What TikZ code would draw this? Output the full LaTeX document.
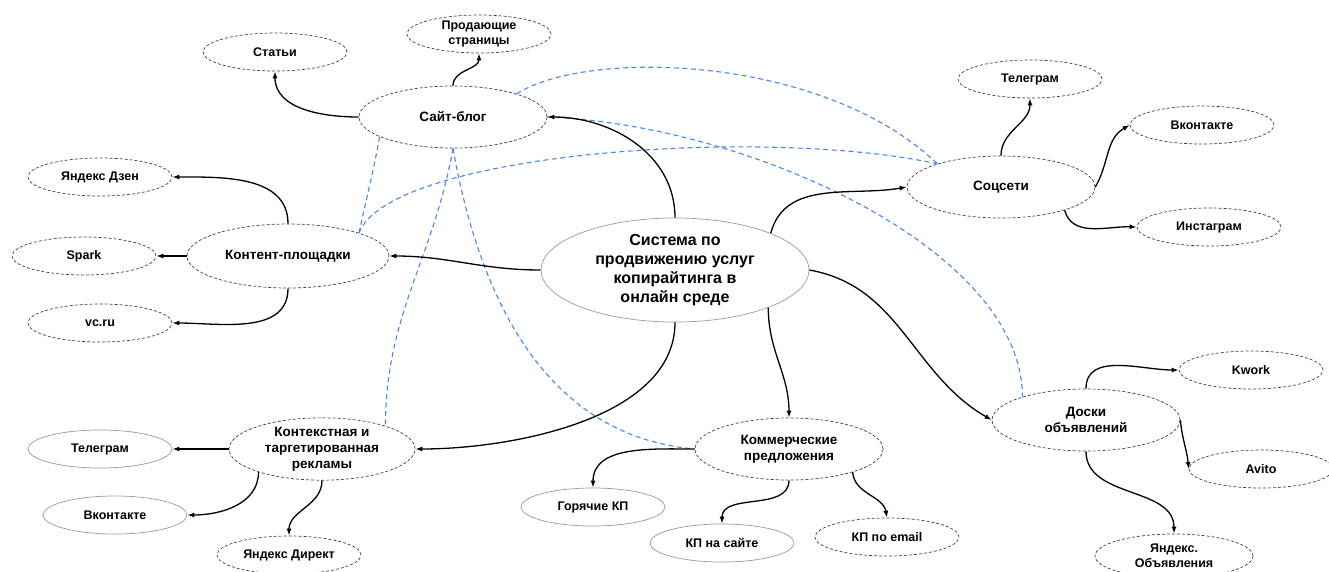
\documentclass[tikz,border=0pt]{standalone}
\usepackage{fontspec}
\setmainfont{Liberation Sans}
\usetikzlibrary{shapes.geometric, arrows.meta}
\definecolor{linkblue}{HTML}{4A86E8}

\tikzset{
  hub/.style={ellipse, draw=black!40, line width=0.7pt, inner sep=0pt, align=center,
    minimum width=268pt, minimum height=104pt, font=\bfseries\fontsize{16}{19}\selectfont},
  topic/.style={ellipse, draw=black!75, line width=0.7pt, dash pattern=on 3pt off 2pt,
    inner sep=0pt, align=center, minimum width=188pt, minimum height=62pt,
    font=\bfseries\fontsize{13.5}{16}\selectfont},
  leaf/.style={ellipse, draw=black!75, line width=0.7pt, dash pattern=on 3pt off 2pt,
    inner sep=0pt, align=center, minimum width=144pt, minimum height=38pt,
    font=\bfseries\fontsize{12.5}{15}\selectfont},
  leafsolid/.style={leaf, solid, draw=black!40},
  arr/.style={-{Latex[length=7pt,width=5pt]}, line width=1.3pt},
  link/.style={draw=linkblue, line width=1.1pt, dash pattern=on 5pt off 3.5pt}
}

\begin{document}
\begin{tikzpicture}[x=1pt, y=-1pt]
\useasboundingbox (0,0) rectangle (1329,571);

% central node and branches
\node[hub] (hub) at (675,270) {Система по\\продвижению услуг\\копирайтинга в\\онлайн среде};
\node[topic] (blog) at (453,117) {Сайт-блог};
\node[topic, minimum width=202pt, minimum height=64pt] (kontent) at (288,256) {Контент-площадки};
\node[topic] (socseti) at (1001,187) {Соцсети};
\node[topic] (doski) at (1086,420) {Доски\\объявлений};
\node[topic] (komm) at (789,449) {Коммерческие\\предложения};
\node[topic, minimum width=186pt] (reklama) at (322,449) {Контекстная и\\таргетированная\\рекламы};

% leaves
\node[leaf] (stati) at (275,52) {Статьи};
\node[leaf] (prodazh) at (479,34) {Продающие\\страницы};
\node[leaf] (dzen) at (100,177) {Яндекс Дзен};
\node[leaf] (spark) at (84,256) {Spark};
\node[leaf] (vcru) at (100,323) {vc.ru};
\node[leaf] (telegram) at (1030,79) {Телеграм};
\node[leaf] (vk) at (1202,125) {Вконтакте};
\node[leaf] (insta) at (1209,227) {Инстаграм};
\node[leaf] (kwork) at (1251,370) {Kwork};
\node[leaf] (avito) at (1261,469) {Avito};
\node[leaf, minimum width=158pt, minimum height=44pt] (yobyav) at (1174,556) {Яндекс.\\Объявления};
\node[leafsolid] (goryach) at (593,507) {Горячие КП};
\node[leafsolid] (kpsait) at (722,543) {КП на сайте};
\node[leaf] (kpemail) at (887,537) {КП по email};
\node[leafsolid] (rtelegram) at (100,449) {Телеграм};
\node[leafsolid] (rvk) at (115,515) {Вконтакте};
\node[leaf] (direkt) at (289,555) {Яндекс Директ};

% blue links
\draw[link] (blog.20) .. controls +(70,-45) and +(-115,-110) .. (socseti.160);
\draw[link] (kontent.18) .. controls +(30,-80) and +(-174,-38) .. (socseti.160);
\draw[link] (blog.east) .. controls +(203,8) and +(0,-147) .. (doski.160);
\draw[link] (blog.-165) to[out=-100,in=78] (kontent.18);
\draw[link] (blog.south) to[out=-100,in=90] (reklama.20);
\draw[link] (blog.south) to[out=-80,in=175] (komm.west);

% arrows from the hub
\draw[arr] (hub.north) to[out=90,in=0] (blog.east);
\draw[arr] (hub.west) to[out=180,in=0] (kontent.east);
\draw[arr] (hub.21) to[out=75,in=190] (socseti.west);
\draw[arr] (hub.east) to[out=-10,in=150] (doski.west);
\draw[arr] (hub.-22) to[out=-90,in=90] (komm.north);
\draw[arr] (hub.south) to[out=-90,in=0, looseness=0.85] (reklama.east);

% arrows to the leaves
\draw[arr] (blog.west) to[out=180,in=-90] (stati.south);
\draw[arr] (blog.north) to[out=90,in=-90] (prodazh.south);
\draw[arr] (kontent.north) to[out=90,in=0] (dzen.east);
\draw[arr] (kontent.west) -- (spark.east);
\draw[arr] (kontent.south) to[out=-90,in=0] (vcru.east);
\draw[arr] (socseti.north) to[out=90,in=-90] (telegram.south);
\draw[arr] (socseti.east) to[out=60,in=210] (vk.west);
\draw[arr] (socseti.-20) to[out=-75,in=178] (insta.west);
\draw[arr] (doski.north) to[out=90,in=180] (kwork.west);
\draw[arr] (doski.east) to[out=-85,in=95] (avito.west);
\draw[arr] (doski.south) to[out=-90,in=90] (yobyav.north);
\draw[arr] (komm.west) to[out=180,in=90] (goryach.north);
\draw[arr] (komm.south) to[out=-90,in=90] (kpsait.north);
\draw[arr] (komm.-20) to[out=-85,in=100] (kpemail.north);
\draw[arr] (reklama.west) -- (rtelegram.east);
\draw[arr] (reklama.-160) to[out=-90,in=0] (rvk.east);
\draw[arr] (reklama.south) to[out=-90,in=90] (direkt.north);
\end{tikzpicture}
\end{document}
